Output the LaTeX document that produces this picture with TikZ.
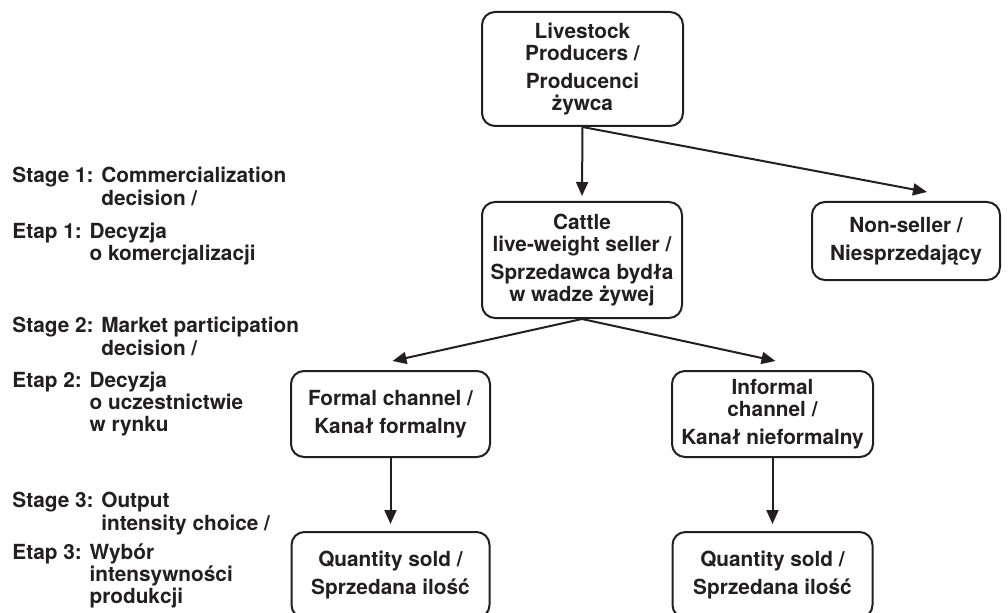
\documentclass[tikz,border=0pt]{standalone}
\usepackage{fontspec}
\setmainfont{TeX Gyre Heros}
\usepackage{tikz}
\usetikzlibrary{arrows.meta,calc}

\definecolor{inkgray}{HTML}{231F20}

\begin{document}
\begin{tikzpicture}[x=0.5pt,y=0.5pt,>={Triangle[length=7pt,width=6pt]},
    line cap=round,line join=round,
    every node/.style={font=\fontsize{10.4}{11.1}\selectfont\bfseries,text=inkgray},
    stagebox/.style={draw=inkgray,line width=1pt,rounded corners=6.5pt,
      align=center,inner sep=0pt},
    stagelabel/.style={anchor=north west,align=left,inner sep=0pt},
    arr/.style={->,draw=inkgray,line width=1pt}]
    \useasboundingbox (0,0) rectangle (1008,612);

    % Boxes of the decision tree.
    \node[stagebox,minimum width=100.5pt,minimum height=57pt] (live)
      at (582.5,543) {Livestock\\Producers /\\[3pt]Producenci\\żywca};
    \node[stagebox,minimum width=100pt,minimum height=58pt] (cattle)
      at (582,352) {Cattle\\live-weight seller /\\[3pt]Sprzedawca bydła\\w wadze żywej};
    \node[stagebox,minimum width=94pt,minimum height=39pt] (nonsell)
      at (906,371) {Non-seller /\\[3pt]Niesprzedający};
    \node[stagebox,minimum width=99.5pt,minimum height=43pt] (formal)
      at (390.5,198) {Formal channel /\\[3pt]Kanał formalny};
    \node[stagebox,minimum width=100.5pt,minimum height=43pt] (informal)
      at (772.5,198) {Informal\\channel /\\[3pt]Kanał nieformalny};
    \node[stagebox,minimum width=99pt,minimum height=43pt] (qtyformal)
      at (390.5,37) {Quantity sold /\\[3pt]Sprzedana ilość};
    \node[stagebox,minimum width=100pt,minimum height=43pt] (qtyinformal)
      at (772.5,37) {Quantity sold /\\[3pt]Sprzedana ilość};

    % Arrow tips stop a little above the boxes.
    \coordinate (tipcattle) at ($(cattle.north)+(0,5)$);
    \coordinate (tipnonsell) at ($(nonsell.north)+(21,9)$);
    \coordinate (tipformal) at ($(formal.north)+(2,9)$);
    \coordinate (tipinformal) at ($(informal.north)+(3,9)$);
    \coordinate (tipqtyformal) at ($(qtyformal.north)+(0,7)$);
    \coordinate (tipqtyinformal) at ($(qtyinformal.north)+(0,7)$);

    \draw[arr] (live.south) -- (tipcattle);
    \draw[arr] (live.south) -- (tipnonsell);
    \draw[arr] (cattle.south) -- (tipformal);
    \draw[arr] (cattle.south) -- (tipinformal);
    \draw[arr] (formal.south) -- (tipqtyformal);
    \draw[arr] (informal.south) -- (tipqtyinformal);

    % Stage labels on the left.
    \node[stagelabel] (stageone) at (12,445)
      {Stage 1: Commercialization\\\hphantom{Stage 1: }decision /\\[5.5pt]%
       Etap 1: Decyzja\\\hphantom{Etap 1: }o komercjalizacji};
    \node[stagelabel] (stagetwo) at (12,295)
      {Stage 2: Market participation\\\hphantom{Stage 2: }decision /\\[5pt]%
       Etap 2: Decyzja\\\hphantom{Etap 2: }o uczestnictwie\\%
       \hphantom{Etap 2: }w rynku};
    \node[stagelabel] (stagethree) at (12,120)
      {Stage 3: Output\\\hphantom{Stage 3: }intensity choice /\\[3.5pt]%
       Etap 3: Wybór\\\hphantom{Etap 3: }intensywności\\%
       \hphantom{Etap 3: }produkcji};
  \end{tikzpicture}
\end{document}
